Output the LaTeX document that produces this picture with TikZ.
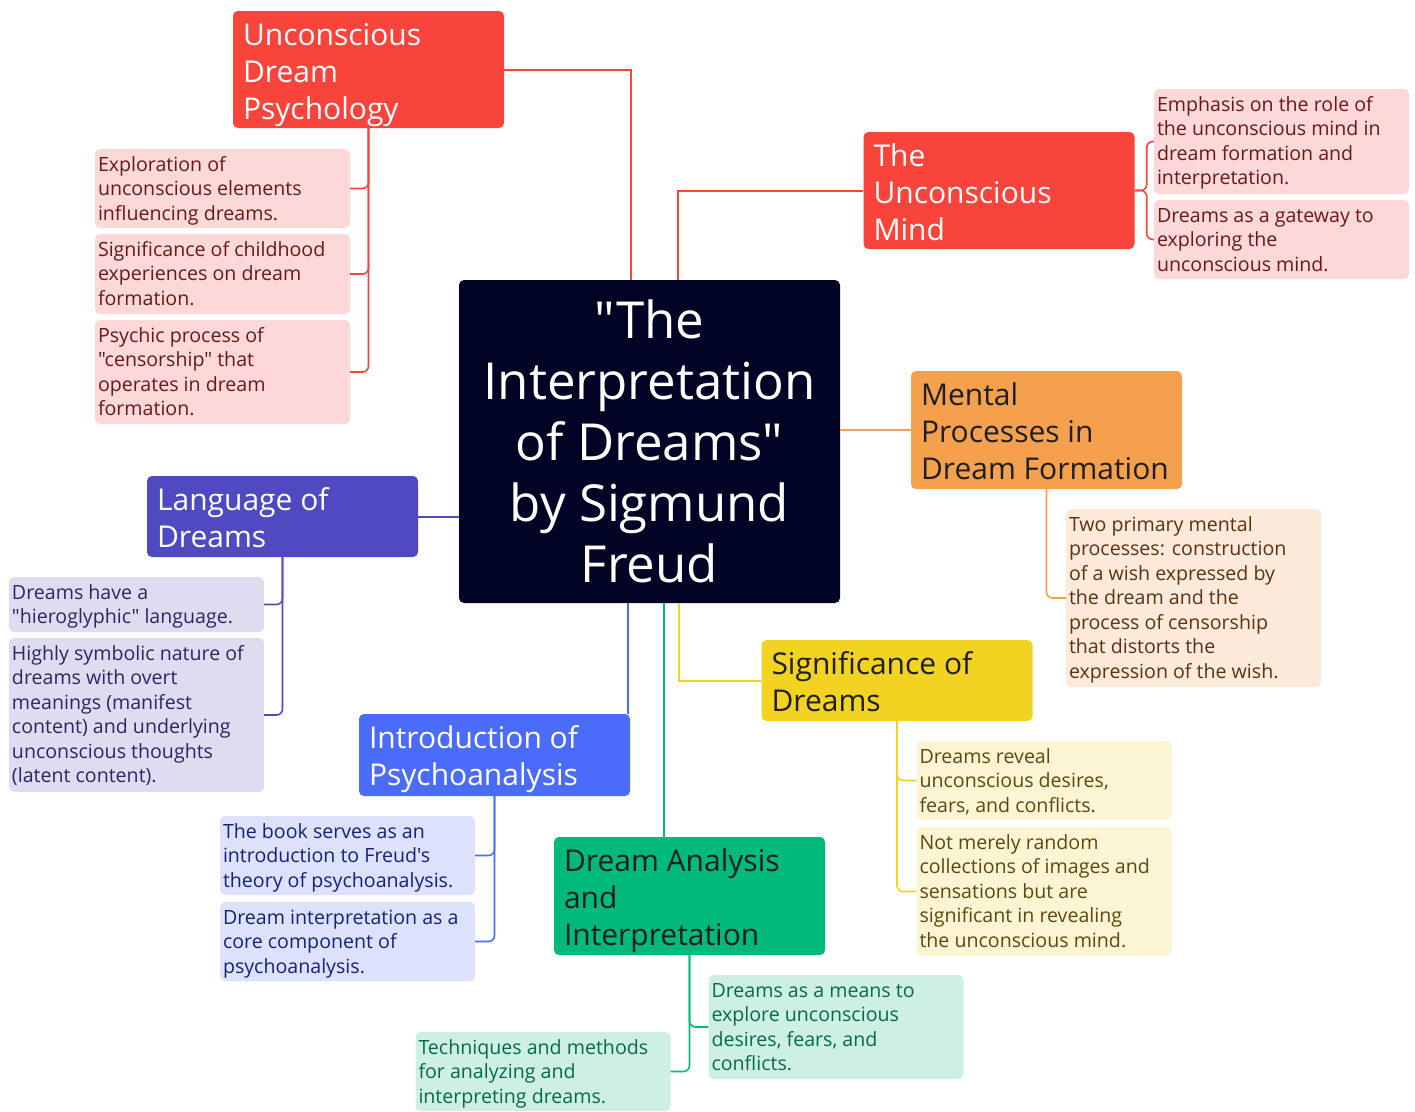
\documentclass[tikz,border=0pt]{standalone}
\usepackage{fontspec}
% family without TeX ligature mapping, so " and ' stay straight
\newfontfamily\mapfont{Open Sans}
\usetikzlibrary{positioning}

\definecolor{navy}{RGB}{2,4,38}
\definecolor{redT}{RGB}{249,68,60}
\definecolor{redS}{RGB}{252,217,216}
\definecolor{redX}{RGB}{105,24,24}
\definecolor{orT}{RGB}{245,160,76}
\definecolor{orS}{RGB}{253,234,218}
\definecolor{orX}{RGB}{92,50,16}
\definecolor{puT}{RGB}{79,74,192}
\definecolor{puS}{RGB}{222,220,240}
\definecolor{puX}{RGB}{42,40,96}
\definecolor{blT}{RGB}{75,107,251}
\definecolor{blS}{RGB}{221,226,252}
\definecolor{blX}{RGB}{20,34,122}
\definecolor{yeT}{RGB}{242,211,33}
\definecolor{yeS}{RGB}{252,245,211}
\definecolor{yeX}{RGB}{90,74,16}
\definecolor{grT}{RGB}{0,185,122}
\definecolor{grS}{RGB}{205,240,226}
\definecolor{grX}{RGB}{6,107,69}
\definecolor{darkT}{RGB}{31,31,31}

% text blocks of fixed height, set from the top of the box
\newcommand\toptxt[2]{\parbox[c][#1pt][t]{251pt}{\raggedright\vspace*{9pt}\strut#2}}
\newcommand\subtxt[2]{\parbox[c][#1pt][t]{249pt}{\raggedright\vspace*{5.3pt}\strut#2}}

\tikzset{
  central/.style={fill=navy, text=white, rounded corners=5pt, inner sep=0pt,
    minimum width=381pt, minimum height=323pt,
    align=center, font=\mapfont\fontsize{51}{61}\selectfont},
  topic/.style={rounded corners=5pt, inner xsep=10pt, inner ysep=0pt,
    font=\mapfont\fontsize{30}{37}\selectfont},
  sub/.style={rounded corners=5pt, inner xsep=3pt, inner ysep=0pt,
    font=\mapfont\fontsize{19.6}{24.5}\selectfont},
  link/.style={line width=2pt},
  bracket/.style={line width=1.6pt, rounded corners=6pt},
}

\begin{document}
\begin{tikzpicture}[x=1pt, y=-1pt]
\useasboundingbox (0,0) rectangle (1415,1111);

% central topic
\node[central] (main) at (649.5,441.5)
  {"The\\Interpretation\\of Dreams"\\by Sigmund\\Freud};

% main branches
\node[topic, fill=redT, text=white] (udp) at (368.5,69.5)
  {\toptxt{117}{Unconscious\\Dream\\Psychology}};
\node[topic, fill=redT, text=white] (tum) at (999,190.5)
  {\toptxt{117}{The\\Unconscious\\Mind}};
\node[topic, fill=orT, text=darkT] (mpdf) at (1046.5,430)
  {\toptxt{118}{Mental\\Processes in\\Dream Formation}};
\node[topic, fill=puT, text=white] (lod) at (282.5,516.5)
  {\toptxt{81}{Language of\\Dreams}};
\node[topic, fill=blT, text=white] (iop) at (494.5,755)
  {\toptxt{82}{Introduction of\\Psychoanalysis}};
\node[topic, fill=yeT, text=darkT] (sod) at (897,680.5)
  {\toptxt{81}{Significance of\\Dreams}};
\node[topic, fill=grT, text=darkT] (dai) at (689.5,896)
  {\toptxt{118}{Dream Analysis\\and\\Interpretation}};

% details: Unconscious Dream Psychology
\node[sub, fill=redS, text=redX] (u1) at (222.5,188.5)
  {\subtxt{79}{Exploration of\\unconscious elements\\influencing dreams.}};
\node[sub, fill=redS, text=redX] (u2) at (222.5,274)
  {\subtxt{80}{Significance of childhood\\experiences on dream\\formation.}};
\node[sub, fill=redS, text=redX] (u3) at (222.5,372)
  {\subtxt{104}{Psychic process of\\"censorship" that\\operates in dream\\formation.}};

% details: The Unconscious Mind
\node[sub, fill=redS, text=redX] (t1) at (1281.5,141.5)
  {\subtxt{105}{Emphasis on the role of\\the unconscious mind in\\dream formation and\\interpretation.}};
\node[sub, fill=redS, text=redX] (t2) at (1281.5,239.5)
  {\subtxt{79}{Dreams as a gateway to\\exploring the\\unconscious mind.}};

% details: Mental Processes
\node[sub, fill=orS, text=orX] (m1) at (1193.5,598)
  {\subtxt{178}{Two primary mental\\processes: construction\\of a wish expressed by\\the dream and the\\process of censorship\\that distorts the\\expression of the wish.}};

% details: Language of Dreams
\node[sub, fill=puS, text=puX] (l1) at (136.5,604.5)
  {\subtxt{55}{Dreams have a\\"hieroglyphic" language.}};
\node[sub, fill=puS, text=puX] (l2) at (136.5,715)
  {\subtxt{154}{Highly symbolic nature of\\dreams with overt\\meanings (manifest\\content) and underlying\\unconscious thoughts\\(latent content).}};

% details: Introduction of Psychoanalysis
\node[sub, fill=blS, text=blX] (i1) at (347.5,855.5)
  {\subtxt{79}{The book serves as an\\introduction to Freud's\\theory of psychoanalysis.}};
\node[sub, fill=blS, text=blX] (i2) at (347.5,941.5)
  {\subtxt{79}{Dream interpretation as a\\core component of\\psychoanalysis.}};

% details: Significance of Dreams
\node[sub, fill=yeS, text=yeX] (s1) at (1044,780.5)
  {\subtxt{79}{Dreams reveal\\unconscious desires,\\fears, and conflicts.}};
\node[sub, fill=yeS, text=yeX] (s2) at (1044,891.5)
  {\subtxt{129}{Not merely random\\collections of images and\\sensations but are\\significant in revealing\\the unconscious mind.}};

% details: Dream Analysis and Interpretation
\node[sub, fill=grS, text=grX] (d1) at (836,1027)
  {\subtxt{104}{Dreams as a means to\\explore unconscious\\desires, fears, and\\conflicts.}};
\node[sub, fill=grS, text=grX] (d2) at (543,1071.5)
  {\subtxt{79}{Techniques and methods\\for analyzing and\\interpreting dreams.}};

% connectors from the central topic
\draw[link, redT] ([xshift=-18.5pt]main.north) |- (udp.east);
\draw[link, redT] ([xshift=28.5pt]main.north) |- (tum.west);
\draw[link, orT] (main.east |- mpdf.west) -- (mpdf.west);
\draw[link, puT] (main.west |- lod.east) -- (lod.east);
\draw[link, blT] ([xshift=-21.5pt]main.south) -- ([xshift=-21.5pt]main.south |- iop.north);
\draw[link, yeT] ([xshift=29.5pt]main.south) |- (sod.west);
\draw[link, grT] ([xshift=14.5pt]main.south) -- ([xshift=14.5pt]main.south |- dai.north);

% connectors to the details
\draw[bracket, redT] (udp.south) |- (u1.east);
\draw[bracket, redT] (udp.south) |- (u2.east);
\draw[bracket, redT] (udp.south) |- (u3.east);
\draw[bracket, redT] (tum.east) -- ++(12,0) |- (t1.west);
\draw[bracket, redT] (tum.east) -- ++(12,0) |- (t2.west);
\draw[bracket, orT] (mpdf.south) |- (m1.west);
\draw[bracket, puT] (lod.south) |- (l1.east);
\draw[bracket, puT] (lod.south) |- (l2.east);
\draw[bracket, blT] (iop.south) |- (i1.east);
\draw[bracket, blT] (iop.south) |- (i2.east);
\draw[bracket, yeT] (sod.south) |- (s1.west);
\draw[bracket, yeT] (sod.south) |- (s2.west);
\draw[bracket, grT] (dai.south) |- (d1.west);
\draw[bracket, grT] (dai.south) |- (d2.east);
\end{tikzpicture}
\end{document}
